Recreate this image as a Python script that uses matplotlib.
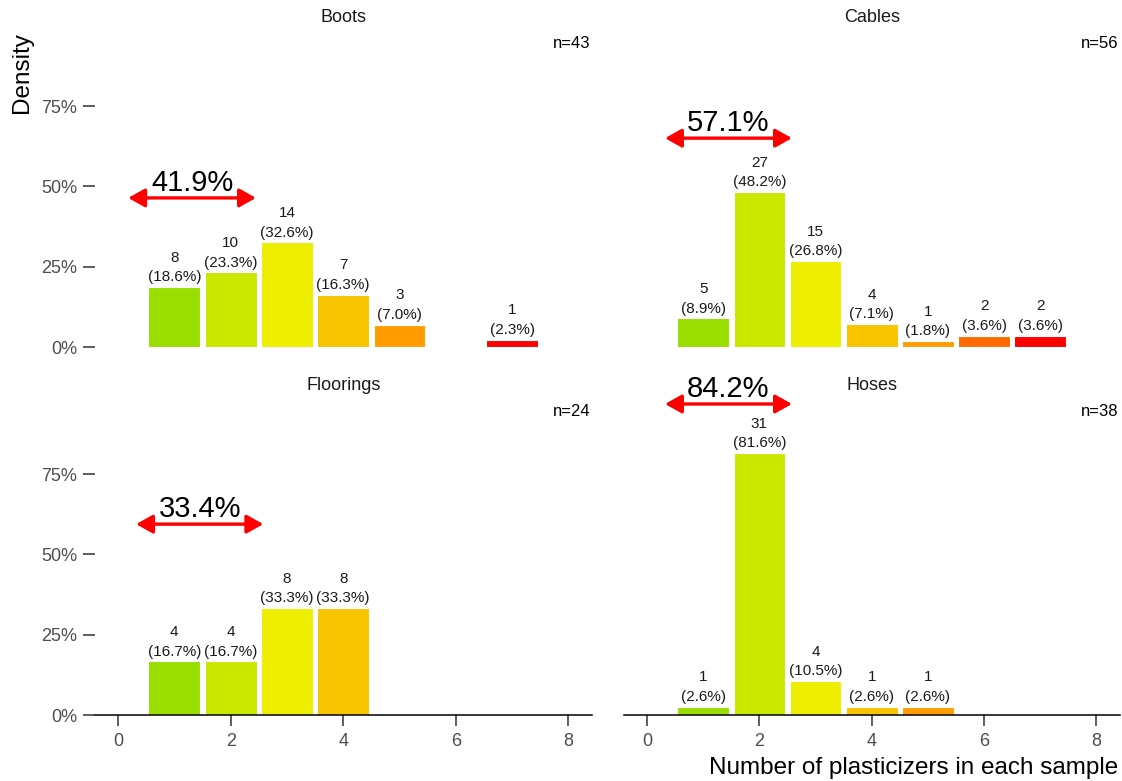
import matplotlib.pyplot as plt

plt.rcParams['font.family'] = ['Liberation Sans', 'DejaVu Sans']

# counts per number of plasticizers (x = 1..7)
X_VALUES = [1, 2, 3, 4, 5, 6, 7]
BOOTS = [8, 10, 14, 7, 3, 0, 1]
CABLES = [5, 27, 15, 4, 1, 2, 2]
FLOORINGS = [4, 4, 8, 8, 0, 0, 0]
HOSES = [1, 31, 4, 1, 1, 0, 0]

PANEL_NAMES = ["Boots", "Cables", "Floorings", "Hoses"]
PANEL_COUNTS = [BOOTS, CABLES, FLOORINGS, HOSES]

# share of samples with 1-2 plasticizers, shown above the red arrow
ARROW_LABELS = ["41.9%", "57.1%", "33.4%", "84.2%"]
ARROW_X0 = [0.18, 0.32, 0.32, 0.32]
ARROW_X1 = [2.45, 2.58, 2.58, 2.58]
ARROW_Y = [0.464, 0.650, 0.594, 0.968]

BAR_COLORS = ["#9ade00", "#c8e800", "#eeee00", "#f8c400",
              "#ff9c00", "#ff6a00", "#ff0000"]

Y_TICKS = [0, 0.25, 0.5, 0.75]
Y_TICK_LABELS = ["0%", "25%", "50%", "75%"]
X_TICKS = [0, 2, 4, 6, 8]

W, H = 1122, 781


def main():
    fig = plt.figure(figsize=(W / 100, H / 100), dpi=100)

    # panel rectangles in pixels: left, right, y of 0%
    lefts = [95, 624]
    rights = [592, 1120]
    zeros = [347, 715]
    unit_h = 321.3

    for i, (name, counts) in enumerate(zip(PANEL_NAMES, PANEL_COUNTS)):
        row, col = divmod(i, 2)
        l, r = lefts[col], rights[col]
        b = zeros[row]
        ax = fig.add_axes([l / W, (H - b) / H, (r - l) / W, unit_h / H])
        ax.set_xlim(-0.41, 8.42)
        ax.set_ylim(0, 1.0)

        n = sum(counts)
        xs = [x for x, c in zip(X_VALUES, counts) if c > 0]
        cs = [c for c in counts if c > 0]
        cols = [BAR_COLORS[x - 1] for x in xs]
        hs = [c / n for c in cs]
        ax.bar(xs, hs, width=0.92, color=cols, edgecolor="white", linewidth=0.8)

        for x, c, h in zip(xs, cs, hs):
            ax.annotate(f"{c}\n({c / n * 100:.1f}%)", xy=(x, h), xytext=(0, 2),
                        textcoords="offset points", ha="center", va="bottom",
                        fontsize=11, linespacing=1.5, color="#1a1a1a")

        ax.annotate("", xy=(ARROW_X1[i], ARROW_Y[i]), xytext=(ARROW_X0[i], ARROW_Y[i]),
                    arrowprops=dict(arrowstyle="<|-|>,head_length=0.5,head_width=0.28",
                                    color="red", lw=2.4, shrinkA=0, shrinkB=0,
                                    mutation_scale=20),
                    annotation_clip=False)
        ax.annotate(ARROW_LABELS[i], xy=((ARROW_X0[i] + ARROW_X1[i]) / 2, ARROW_Y[i]),
                    xytext=(0, 1), textcoords="offset points", ha="center", va="bottom",
                    fontsize=21, color="black", annotation_clip=False)

        ax.text(8.4, 0.946, f"n={n}", ha="right", va="center", fontsize=12)
        ax.set_title(name, fontsize=13, pad=3, color="#1a1a1a")

        for s in ax.spines.values():
            s.set_visible(False)

        if col == 0:
            ax.set_yticks(Y_TICKS)
            ax.set_yticklabels(Y_TICK_LABELS)
            ax.tick_params(axis="y", length=8.6, width=1.1, color="#333333",
                           pad=4.3, labelsize=13, labelcolor="#4d4d4d")
        else:
            ax.set_yticks([])

        if row == 1:
            ax.spines["bottom"].set_visible(True)
            ax.spines["bottom"].set_linewidth(1.1)
            ax.spines["bottom"].set_color("black")
            ax.set_xticks(X_TICKS)
            ax.tick_params(axis="x", length=8, width=1.1, color="#333333",
                           pad=5, labelsize=13, labelcolor="#4d4d4d")
        else:
            ax.set_xticks([])

    fig.text(22 / W, 1 - 73 / H, "Density", rotation=90, ha="center", va="center",
             fontsize=17.5, color="black")
    fig.text(1118 / W, 1 - 768 / H, "Number of plasticizers in each sample",
             ha="right", va="center", fontsize=17.5, color="black")

    fig.savefig("out.png", dpi=100, facecolor="white")


if __name__ == "__main__":
    main()
